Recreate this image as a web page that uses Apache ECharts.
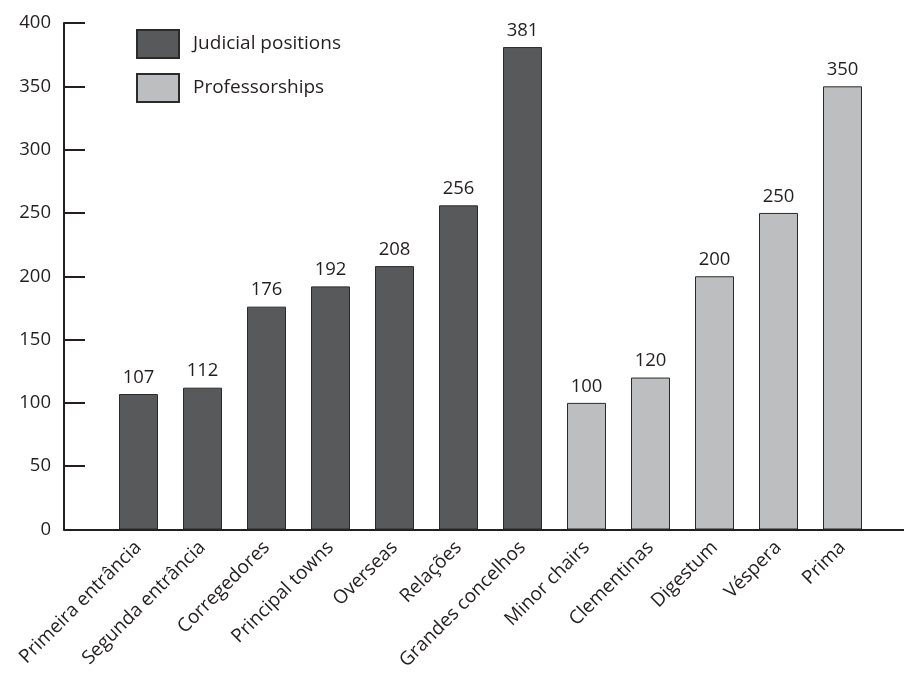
<!DOCTYPE html>
<html>
<head>
<meta charset="utf-8">
<script src="https://cdn.jsdelivr.net/npm/echarts@6/dist/echarts.min.js"></script>
<style>
html,body{margin:0;padding:0;background:#fff;}
#chart{width:904px;height:673px;}
</style>
</head>
<body>
<div id="chart"></div>
<script>
var categories = ['Primeira entrância','Segunda entrância','Corregedores','Principal towns','Overseas','Relações','Grandes concelhos','Minor chairs','Clementinas','Digestum','Véspera','Prima'];
var judicialValues = [107,112,176,192,208,256,381];
var professorValues = [100,120,200,250,350];
var yTicks = [0,50,100,150,200,250,300,350,400];

var judicialData = categories.map(function(c,i){ return i < judicialValues.length ? judicialValues[i] : '-'; });
var professorData = categories.map(function(c,i){ var j = i - judicialValues.length; return j >= 0 ? professorValues[j] : '-'; });

var FONT = 'Open Sans';
var TXT = '#231f20';

var chart = echarts.init(document.getElementById('chart'));
chart.setOption({
  animation: false,
  textStyle: {fontFamily: FONT},
  legend: {
    orient: 'vertical', left: 136, top: 29, padding: 0,
    icon: 'rect',
    itemWidth: 42, itemHeight: 28, itemGap: 14,
    textStyle: {fontFamily: FONT, fontSize: 19, color: TXT, padding: [0,0,0,9]},
    data: ['Judicial positions','Professorships']
  },
  grid: [
    {left: 106.5, width: 768, top: 23, bottom: 143.5},
    {left: 64, right: 0, top: 23, bottom: 143.5}
  ],
  xAxis: [
    {type: 'category', gridIndex: 0, data: categories, boundaryGap: true,
     axisLine: {show: false}, axisTick: {show: false},
     axisLabel: {rotate: 45, margin: 15, fontFamily: FONT, fontSize: 19, color: TXT, interval: 0}},
    {type: 'value', gridIndex: 1, min: 0, max: 1,
     axisLine: {show: true, lineStyle: {color: TXT, width: 2}},
     axisTick: {show: false}, axisLabel: {show: false}, splitLine: {show: false}}
  ],
  yAxis: [
    {type: 'value', gridIndex: 0, min: 0, max: 400, interval: 50, show: false, splitLine: {show: false}},
    {type: 'value', gridIndex: 1, min: 0, max: 400, interval: 50,
     axisLine: {show: true, lineStyle: {color: TXT, width: 2}},
     axisTick: {show: true, inside: true, length: 21, lineStyle: {color: TXT, width: 2}},
     axisLabel: {fontFamily: FONT, fontSize: 18.5, color: TXT, margin: 13,
       formatter: function(v){ return yTicks.indexOf(v) >= 0 ? String(v) : ''; }},
     splitLine: {show: false}}
  ],
  series: [
    {name: 'Judicial positions', type: 'bar', xAxisIndex: 0, yAxisIndex: 0,
     data: judicialData, barWidth: 39, barGap: '-100%',
     itemStyle: {color: '#58595b', borderColor: '#2b2b2b', borderWidth: 1},
     label: {show: true, position: 'top', distance: 7, fontFamily: FONT, fontSize: 18.5, color: TXT}},
    {name: 'Professorships', type: 'bar', xAxisIndex: 0, yAxisIndex: 0,
     data: professorData, barWidth: 39, barGap: '-100%',
     itemStyle: {color: '#bcbec0', borderColor: '#2b2b2b', borderWidth: 1},
     label: {show: true, position: 'top', distance: 7, fontFamily: FONT, fontSize: 18.5, color: TXT}}
  ]
});
</script>
</body>
</html>
